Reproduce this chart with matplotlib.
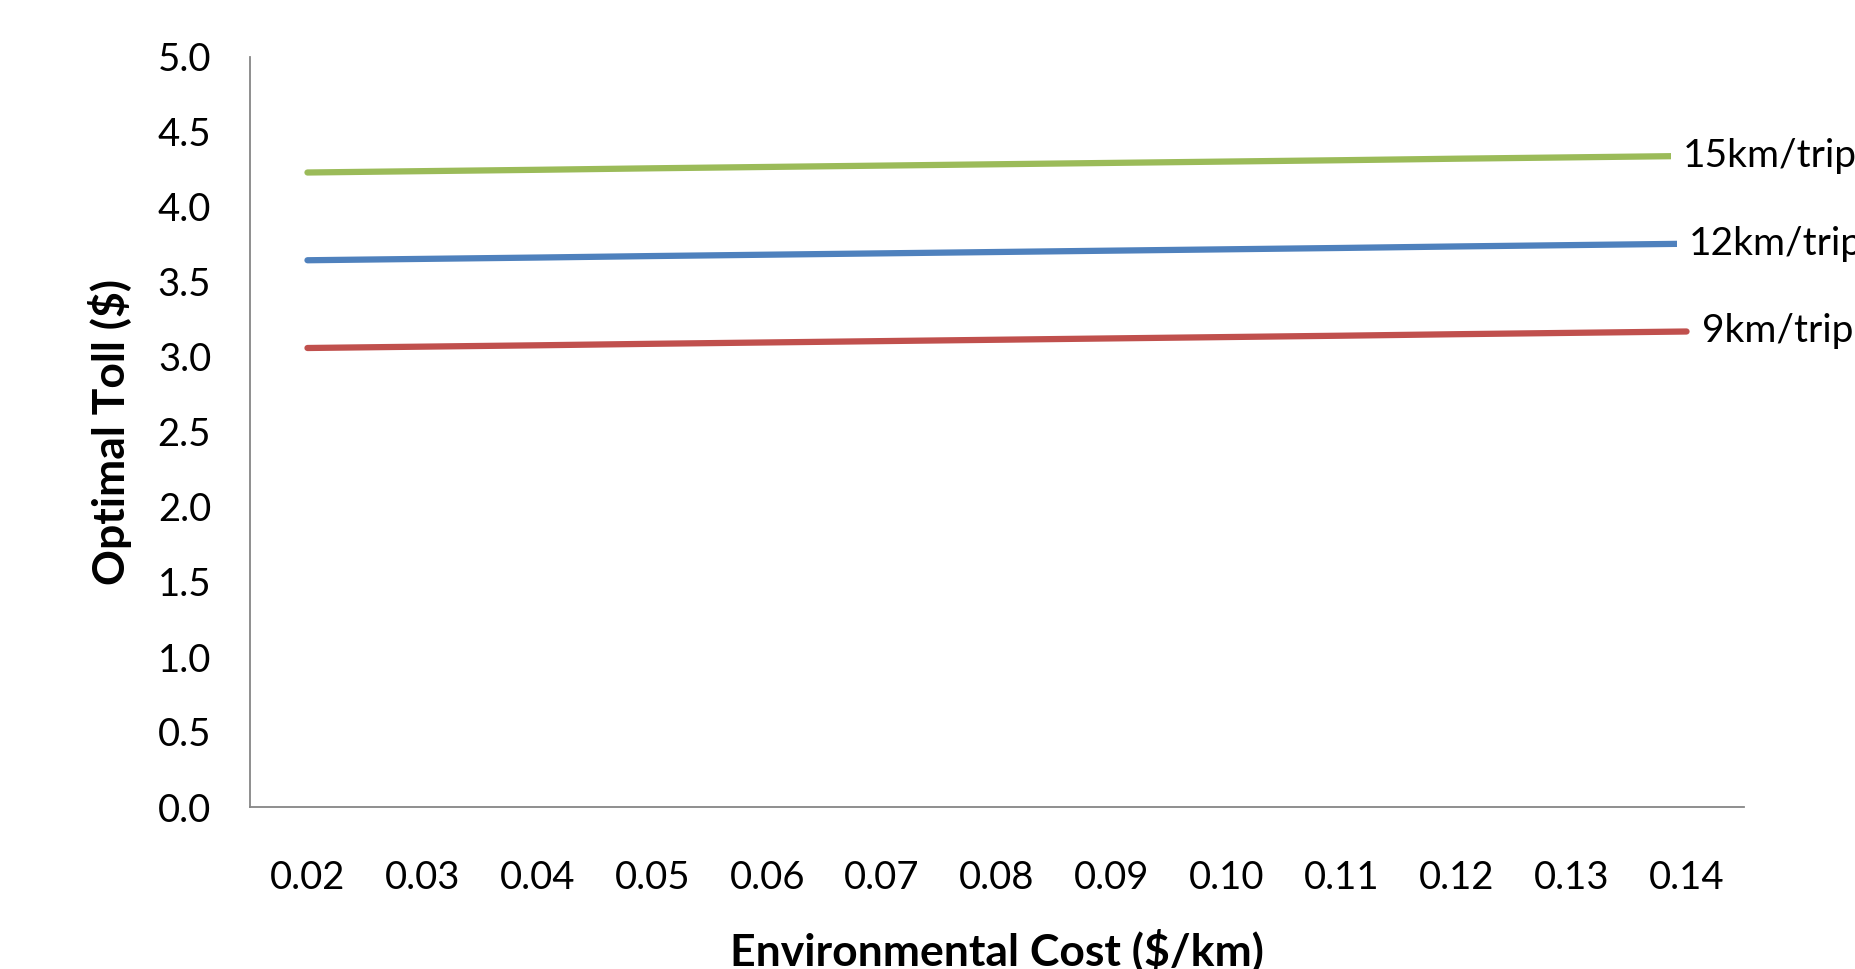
import numpy as np
import matplotlib.pyplot as plt

# data
costs = ['0.02', '0.03', '0.04', '0.05', '0.06', '0.07', '0.08',
         '0.09', '0.10', '0.11', '0.12', '0.13', '0.14']
toll_15 = [4.230, 4.239, 4.248, 4.258, 4.267, 4.276, 4.285,
           4.294, 4.303, 4.312, 4.322, 4.331, 4.340]
toll_12 = [3.645, 3.654, 3.663, 3.673, 3.682, 3.691, 3.700,
           3.709, 3.718, 3.727, 3.737, 3.746, 3.755]
toll_9 = [3.060, 3.069, 3.078, 3.088, 3.097, 3.106, 3.115,
          3.124, 3.133, 3.142, 3.152, 3.161, 3.170]
series = [('15km/trip', toll_15, '#9BBB59', -4),
          ('12km/trip', toll_12, '#4F81BD', 2),
          ('9km/trip', toll_9, '#C0504D', 15)]
yticks = np.arange(0, 5.01, 0.5)

plt.rcParams['font.family'] = ['Lato', 'DejaVu Sans']
fig = plt.figure(figsize=(18.56, 9.69), dpi=100)
ax = fig.add_axes([250/1856, 1-807/969, 1494/1856, 750/969])

x = np.arange(len(costs))
for name, vals, col, dx in series:
    ax.plot(x, vals, color=col, lw=4.5, solid_capstyle='round')
    ax.annotate(name, (x[-1], vals[-1]), xytext=(dx, 0), textcoords='offset pixels',
                ha='left', va='center', fontsize=28, annotation_clip=False,
                bbox=dict(boxstyle='square,pad=0.3', fc='white', ec='none'))

ax.set_xlim(-0.5, len(costs)-0.5); ax.set_ylim(0, 5)
ax.set_xticks(x, costs); ax.set_yticks(yticks, ['%.1f' % v for v in yticks])
ax.tick_params(length=0, labelsize=27.5)
ax.tick_params('x', pad=38); ax.tick_params('y', pad=28)
for s in ('top', 'right'): ax.spines[s].set_visible(False)
for s in ('left', 'bottom'): ax.spines[s].set(color='#868686', lw=1.3)

fig.text(997/1856, 1-950/969, 'Environmental Cost ($/km)', ha='center', va='center',
         fontsize=32, weight='bold')
fig.text(110/1856, 1-432/969, 'Optimal Toll ($)', ha='center', va='center',
         rotation=90, fontsize=32, weight='bold')

fig.savefig('out.png', dpi=100)
